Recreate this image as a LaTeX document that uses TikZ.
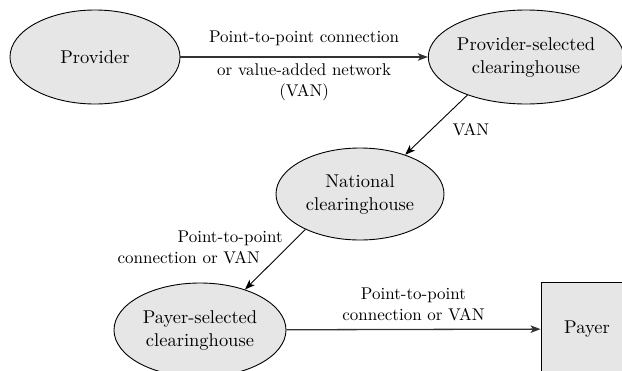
\documentclass[tikz,border=0pt]{standalone}
\usepackage{fontspec}
\newfontfamily\tenrm{lmroman10-regular.otf}
\usetikzlibrary{shapes.geometric,arrows.meta}
\definecolor{nodefill}{HTML}{E6E6E6}
\definecolor{linegray}{HTML}{333333}
\begin{document}
\begin{tikzpicture}[x=1pt,y=-1pt,
  ell/.style={ellipse,draw=black,line width=0.9pt,fill=nodefill,inner sep=0pt,
    align=center,font=\tenrm\fontsize{18.5}{23}\selectfont},
  boxnode/.style={rectangle,draw=black,line width=0.9pt,fill=nodefill,inner sep=0pt,
    align=center,font=\tenrm\fontsize{18.5}{23}\selectfont},
  conn/.style={line width=0.9pt,-{Stealth[length=10pt,width=7.5pt,inset=2.5pt]}},
  hconn/.style={conn,draw=linegray,line width=1.3pt},
  lab/.style={font=\tenrm\fontsize{17}{21}\selectfont,inner sep=0pt}]
\useasboundingbox (0,0) rectangle (622,370);
\clip (0,0) rectangle (622,370);
\node[ell,minimum width=170pt,minimum height=94pt] (prov) at (95,57) {Provider};
\node[ell,minimum width=172pt,minimum height=94pt] (psel) at (526,57) {Provider-selected\\clearinghouse};
\node[ell,minimum width=168pt,minimum height=92pt] (nat) at (360,194) {National\\clearinghouse};
\node[ell,minimum width=172pt,minimum height=94pt] (paysel) at (200,330) {Payer-selected\\clearinghouse};
\node[boxnode,minimum width=92pt,minimum height=94pt] (payer) at (587,329) {Payer};
\draw[hconn] (prov) -- (psel)
  node[lab,midway,above=11pt] {Point-to-point connection}
  node[lab,midway,below=6pt,align=center] {or value-added network\\(VAN)};
\draw[conn] (psel.213) -- (nat.41)
  node[lab,midway,right=16pt,yshift=-5pt] {VAN};
\draw[conn] (nat.213) -- (paysel.42)
  node[lab,midway,left=10pt,align=right,xshift=18pt,yshift=12pt] {Point-to-point\\connection or VAN\hspace*{23pt}};
\draw[hconn] (paysel) -- (payer)
  node[lab,midway,above=8pt,align=center] {Point-to-point\\connection or VAN};
\end{tikzpicture}
\end{document}
